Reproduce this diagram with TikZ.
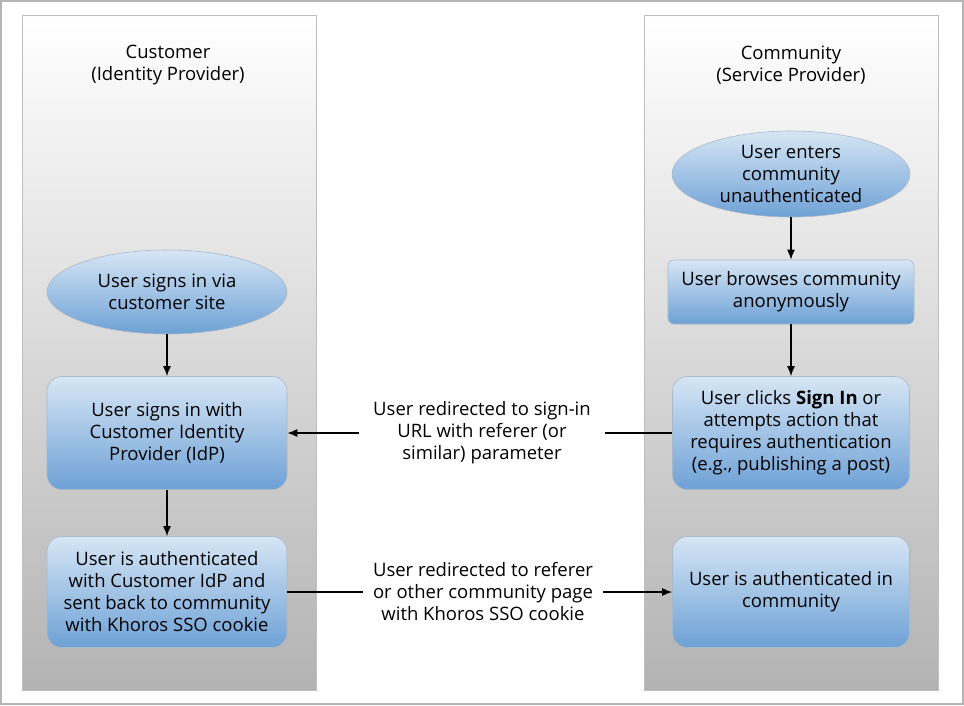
\documentclass[tikz,border=0pt]{standalone}
\usepackage{fontspec}
\setmainfont{Open Sans}
\usepackage{tikz}
\usetikzlibrary{arrows.meta,shapes.geometric}
\usepackage{xcolor}
\definecolor{frame}{RGB}{180,180,180}
\definecolor{laneedge}{RGB}{190,190,190}
\definecolor{lanebot}{RGB}{179,179,179}
\definecolor{steptop}{RGB}{214,230,245}
\definecolor{stepbot}{RGB}{110,161,214}
\definecolor{stepedge}{RGB}{170,185,200}
\tikzset{
  lane/.style={draw=laneedge,line width=0.8pt,top color=white,bottom color=lanebot},
  flowbox/.style={draw=stepedge,line width=0.6pt,rounded corners=15pt,
    top color=steptop,bottom color=stepbot,align=center,inner sep=0pt},
  flowoval/.style={ellipse,draw=stepedge,line width=0.6pt,
    top color=steptop,bottom color=stepbot,align=center,inner sep=0pt},
  msg/.style={align=center,inner ysep=0pt},
  flow/.style={line width=1.4pt,-{Latex[length=10pt,width=8pt]}},
}

\begin{document}
\begin{tikzpicture}[x=1pt,y=-1pt,font=\fontsize{18.5}{22}\selectfont]
  \useasboundingbox (0,0) rectangle (964,705);
  \draw[frame,line width=2pt] (1,1) rectangle (963,704);
  % swim lanes
  \draw[lane] (22,15) rectangle (316,690);
  \draw[lane] (644,15) rectangle (938,690);
  \node[align=center] (idp) at (168,65) {Customer\\(Identity Provider)};
  \node[align=center] (sp) at (791,65) {Community\\(Service Provider)};
  % community side
  \node[flowoval,minimum width=238pt,minimum height=86pt] (enter) at (791,174)
     {User enters\\community\\unauthenticated};
  \node[flowbox,rounded corners=6pt,minimum width=246pt,minimum height=64pt] (browse) at (791,292)
     {User browses community\\anonymously};
  \node[flowbox,minimum width=237pt,minimum height=113pt] (click) at (791,433)
     {User clicks \textbf{Sign In} or\\attempts action that\\requires authentication\\(e.g., publishing a post)};
  \node[flowbox,minimum width=237pt,minimum height=111pt] (authd) at (791,592)
     {User is authenticated in\\community};
  % customer side
  \node[flowoval,minimum width=240pt,minimum height=84pt] (via) at (167,292)
     {User signs in via\\customer site};
  \node[flowbox,minimum width=240pt,minimum height=113pt] (signin) at (167,433)
     {User signs in with\\Customer Identity\\Provider (IdP)};
  \node[flowbox,minimum width=240pt,minimum height=111pt] (sent) at (167,592)
     {User is authenticated\\with Customer IdP and\\sent back to community\\with Khoros SSO cookie};
  % messages between lanes
  \node[msg,inner xsep=14pt] (redir) at (482,433)
     {User redirected to sign-in\\URL with referer (or\\similar) parameter};
  \node[msg,inner xsep=10pt] (back) at (483,592)
     {User redirected to referer\\or other community page\\with Khoros SSO cookie};
  \draw[flow] (enter) -- (browse);
  \draw[flow] (browse) -- (click);
  \draw[flow] (via) -- (signin);
  \draw[flow] (signin) -- (sent);
  \draw[line width=1.4pt] (click.west) -- (redir.east);
  \draw[flow] (redir.west) -- (signin.east);
  \draw[line width=1.4pt] (sent.east) -- (back.west);
  \draw[flow] (back.east) -- (authd.west);
\end{tikzpicture}
\end{document}
